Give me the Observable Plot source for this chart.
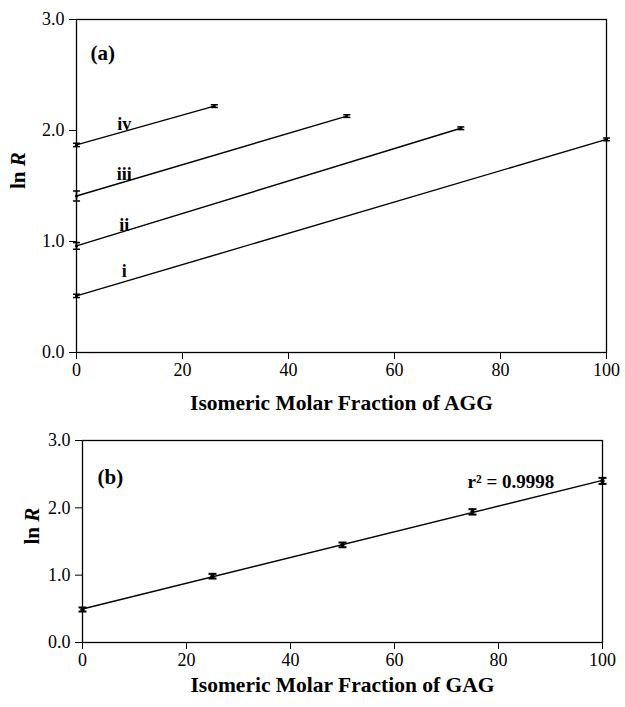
<!DOCTYPE html>
<html>
<head>
<meta charset="utf-8">
<script src="https://cdn.jsdelivr.net/npm/d3@7"></script>
<script src="https://cdn.jsdelivr.net/npm/@observablehq/plot@0.6"></script>
<style>
  html, body { margin: 0; padding: 0; background: white; }
  #chart { width: 625px; }
  #chart svg { display: block; }
</style>
</head>
<body>
<div id="chart"></div>
<script>
// ---------- Panel (a) data ----------
const seriesA = ["i", "ii", "iii", "iv"];
const startXA = [0, 0, 0, 0];
const endXA = [100, 72.5, 51, 26];
const startYA = [0.51, 0.96, 1.41, 1.87];
const endYA = [1.92, 2.02, 2.13, 2.22];
const startErrA = [0.015, 0.03, 0.045, 0.015];
const endErrA = [0.012, 0.012, 0.012, 0.012];
const labelXA = [9, 9, 9, 9];
const labelYA = [0.73, 1.15, 1.61, 2.06];

// ---------- Panel (b) data ----------
const xB = [0, 25, 50, 75, 100];
const yB = [0.49, 0.985, 1.45, 1.94, 2.40];
const errB = [0.03, 0.035, 0.035, 0.04, 0.045];
const r2Text = "r² = 0.9998";

// ---------- shared text ----------
const xTicks = [0, 20, 40, 60, 80, 100];
const yTicks = [0, 1, 2, 3];
const titleA = "Isomeric Molar Fraction of AGG";
const titleB = "Isomeric Molar Fraction of GAG";
const yTitle = "ln R";
const panelA = "(a)";
const panelB = "(b)";

// build tables
const linesA = [];
const pointsA = [];
seriesA.forEach((s, i) => {
  linesA.push({s, x: startXA[i], y: startYA[i]});
  linesA.push({s, x: endXA[i], y: endYA[i]});
  pointsA.push({s, x: startXA[i], y: startYA[i], e: startErrA[i]});
  pointsA.push({s, x: endXA[i], y: endYA[i], e: endErrA[i]});
});
const labelsA = seriesA.map((s, i) => ({s, x: labelXA[i], y: labelYA[i]}));
const pointsB = xB.map((x, i) => ({x, y: yB[i], e: errB[i]}));

const capSymbol = {
  draw(ctx, size) {
    const w = Math.sqrt(size) / 2;
    ctx.moveTo(-w, 0);
    ctx.lineTo(w, 0);
  }
};

const font = "'Liberation Serif', 'Times New Roman', serif";

function axes() {
  return [
    Plot.frame({stroke: "black", strokeWidth: 1.3}),
    Plot.axisX({ticks: xTicks, tickSize: 7, tickPadding: 4, fontSize: 18, label: null, tickFormat: d3.format("d")}),
    Plot.axisY({ticks: yTicks, tickSize: 7, tickPadding: 5, fontSize: 18, label: null, tickFormat: d3.format(".1f")})
  ];
}

function errorMarks(data, capSize, sw) {
  return [
    Plot.ruleX(data, {x: "x", y1: d => d.y - d.e, y2: d => d.y + d.e, stroke: "black", strokeWidth: sw}),
    Plot.dot(data, {x: "x", y: d => d.y - d.e, symbol: capSymbol, r: capSize, stroke: "black", strokeWidth: sw, fill: "none"}),
    Plot.dot(data, {x: "x", y: d => d.y + d.e, symbol: capSymbol, r: capSize, stroke: "black", strokeWidth: sw, fill: "none"})
  ];
}

const plotA = Plot.plot({
  width: 625,
  height: 420,
  marginLeft: 76,
  marginRight: 19,
  marginTop: 19,
  marginBottom: 68,
  style: {fontFamily: font, fontSize: "18px", background: "white", color: "black"},
  x: {domain: [0, 100]},
  y: {domain: [0, 3]},
  marks: [
    ...axes(),
    Plot.line(linesA, {x: "x", y: "y", z: "s", stroke: "black", strokeWidth: 1.4}),
    ...errorMarks(pointsA, 4, 1.5),
    Plot.dot(pointsA, {x: "x", y: "y", r: 1.6, fill: "black"}),
    Plot.text(labelsA, {x: "x", y: "y", text: "s", fontWeight: "bold", fontSize: 18, textAnchor: "middle", lineAnchor: "middle"}),
    Plot.text([panelA], {text: d => d, frameAnchor: "top-left", dx: 14, dy: 34, fontWeight: "bold", fontSize: 21, textAnchor: "start", lineAnchor: "middle"}),
    Plot.text([titleA], {text: d => d, frameAnchor: "bottom", dy: 51, fontWeight: "bold", fontSize: 21.5, lineAnchor: "middle"}),
    Plot.text([yTitle], {text: d => d, frameAnchor: "left", dx: -58, dy: 3, rotate: -90, fontWeight: "bold", fontSize: 21, lineAnchor: "middle", className: "ylab"})
  ]
});

const plotB = Plot.plot({
  width: 625,
  height: 287,
  marginLeft: 82,
  marginRight: 23,
  marginTop: 20,
  marginBottom: 65,
  style: {fontFamily: font, fontSize: "18px", background: "white", color: "black"},
  x: {domain: [0, 100]},
  y: {domain: [0, 3]},
  marks: [
    ...axes(),
    Plot.linearRegressionY(pointsB, {x: "x", y: "y", ci: 0, stroke: "black", strokeWidth: 1.4}),
    ...errorMarks(pointsB, 4.5, 2),
    Plot.dot(pointsB, {x: "x", y: "y", r: 2.2, fill: "black"}),
    Plot.text([panelB], {text: d => d, frameAnchor: "top-left", dx: 15, dy: 37, fontWeight: "bold", fontSize: 21, textAnchor: "start", lineAnchor: "middle"}),
    Plot.text([r2Text], {text: d => d, frameAnchor: "top-left", dx: 385, dy: 41, fontWeight: "bold", fontSize: 19, textAnchor: "start", lineAnchor: "middle"}),
    Plot.text([titleB], {text: d => d, frameAnchor: "bottom", dy: 43, fontWeight: "bold", fontSize: 21.5, lineAnchor: "middle"}),
    Plot.text([yTitle], {text: d => d, frameAnchor: "left", dx: -50, dy: 3, rotate: -90, fontWeight: "bold", fontSize: 21, lineAnchor: "middle", className: "ylab"})
  ]
});

// italicize R in "ln R"
for (const svg of [plotA, plotB]) {
  d3.select(svg).selectAll("g.ylab text").each(function() {
    const t = d3.select(this);
    t.text(null);
    t.append("tspan").text("ln ");
    t.append("tspan").attr("font-style", "italic").text("R");
  });
}

document.getElementById("chart").append(plotA, plotB);
</script>
</body>
</html>
